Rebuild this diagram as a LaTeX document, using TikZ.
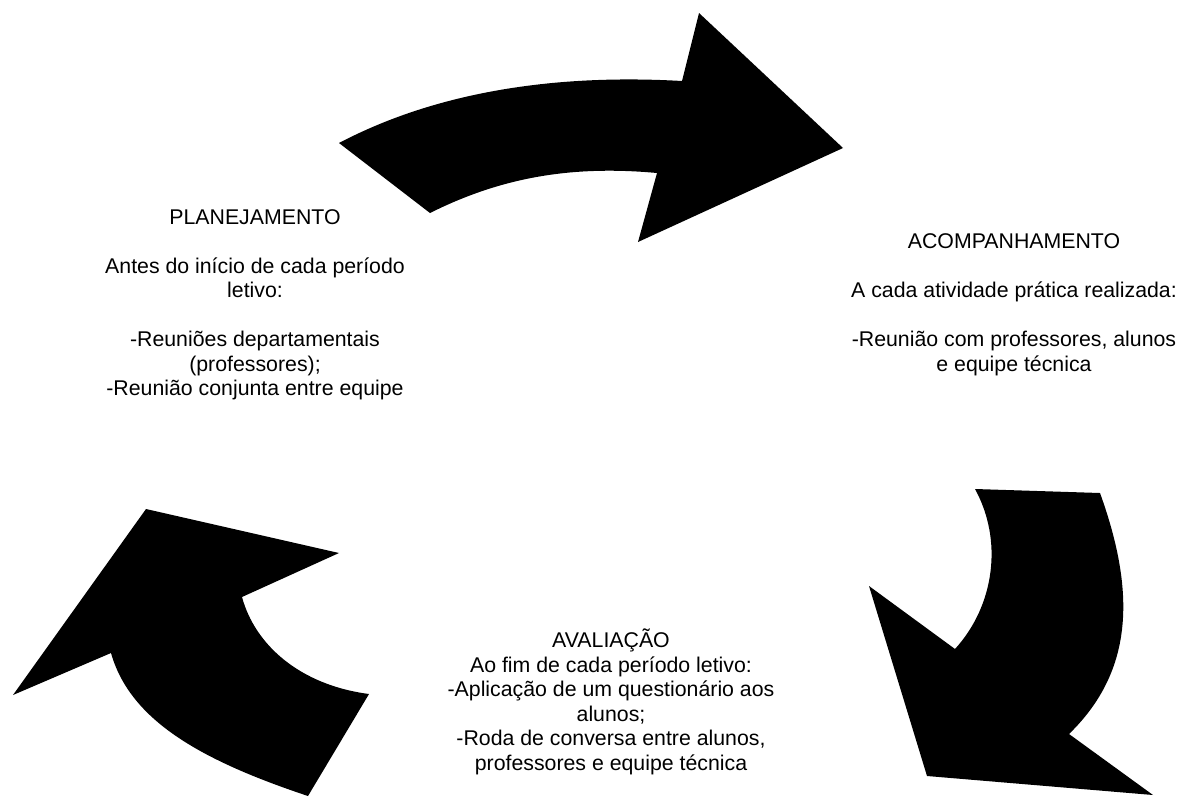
\documentclass[tikz,border=0pt]{standalone}
\usepackage{fontspec}
\setmainfont{Liberation Sans}
\usepackage{tikz}

\begin{document}
\begin{tikzpicture}[x=1pt, y=-1pt,
    bloco/.style={align=center, inner sep=0pt, font=\fontsize{21.3}{24.5}\selectfont},
    seta/.style={fill=black, draw=none}]
        \useasboundingbox (0,0) rectangle (1181,796);

        % Setas do ciclo
        \fill [seta] (339,143) .. controls (440,90) and (560,74) .. (682,81)
            -- (699,13) -- (843,148) -- (638,242) -- (657,173)
            .. controls (570,165) and (500,178) .. (430,213) -- cycle;
        \fill [seta] (975,489) -- (1100,493)
            .. controls (1135,590) and (1135,670) .. (1069,734)
            -- (1153,795) -- (927,776) -- (869,586) -- (955,649)
            .. controls (995,605) and (1003,540) .. (975,489) -- cycle;
        \fill [seta] (369,694) -- (308,796)
            .. controls (200,760) and (130,720) .. (111,653)
            -- (13,695) -- (146,509) -- (339,553) -- (242,597)
            .. controls (255,645) and (300,685) .. (369,694) -- cycle;

        % Textos das etapas
        \node [bloco] (planejamento) at (255,305) {PLANEJAMENTO\\[24.5pt]
            Antes do início de cada período\\ letivo:\\[24.5pt]
            -Reuniões departamentais\\ (professores);\\
            -Reunião conjunta entre equipe};
        \node [bloco] (acompanhamento) at (1014,305) {ACOMPANHAMENTO\\[24.5pt]
            A cada atividade prática realizada:\\[24.5pt]
            -Reunião com professores, alunos\\ e equipe técnica};
        \node [bloco] (avaliacao) at (611,702) {AVALIAÇÃO\\
            Ao fim de cada período letivo:\\
            -Aplicação de um questionário aos\\ alunos;\\
            -Roda de conversa entre alunos,\\ professores e equipe técnica};
    \end{tikzpicture}
\end{document}
